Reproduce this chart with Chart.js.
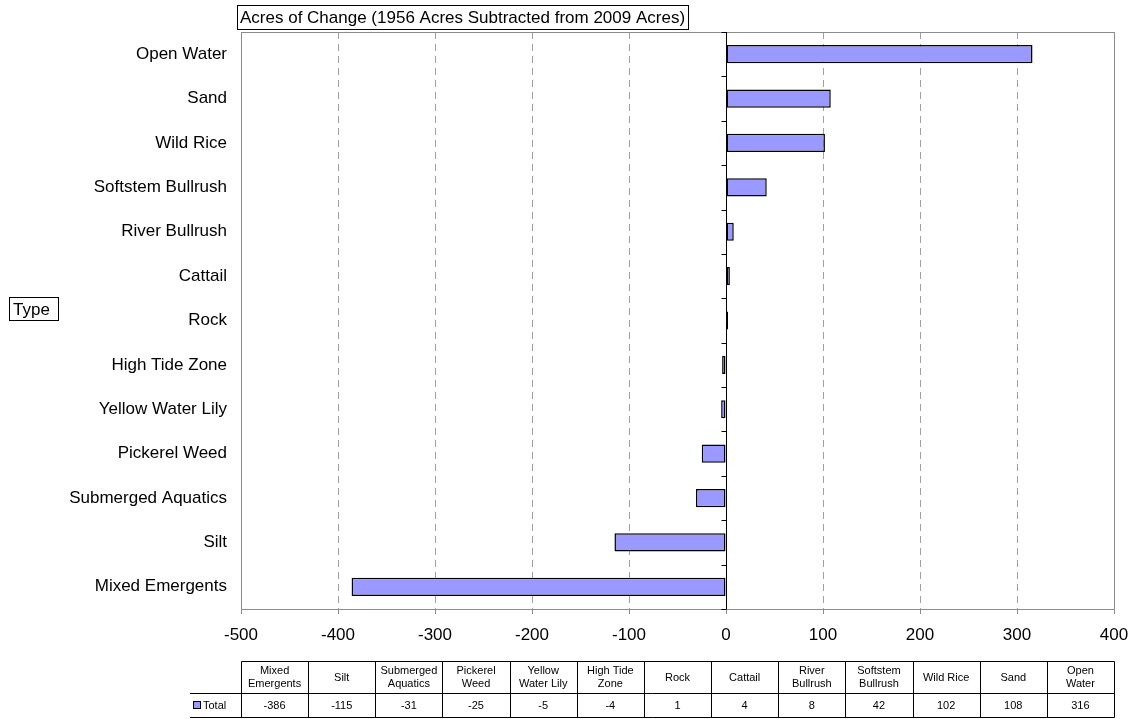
<!DOCTYPE html>
<html>
<head>
<meta charset="utf-8">
<script src="https://cdn.jsdelivr.net/npm/chart.js@4.4.1/dist/chart.umd.min.js"></script>
<style>
  html, body { margin: 0; padding: 0; background: #fff; }
  #wrap { width: 1141px; height: 719px; }
</style>
</head>
<body>
<div id="wrap"><canvas id="chart"></canvas></div>
<script>
'use strict';

// data, in the order of the table (bottom bar first)
const categories = ['Mixed Emergents', 'Silt', 'Submerged Aquatics', 'Pickerel Weed', 'Yellow Water Lily',
  'High Tide Zone', 'Rock', 'Cattail', 'River Bullrush', 'Softstem Bullrush', 'Wild Rice', 'Sand', 'Open Water'];
const totals = [-386, -115, -31, -25, -5, -4, 1, 4, 8, 42, 102, 108, 316];
const seriesName = 'Total';
const chartTitle = 'Acres of Change (1956 Acres Subtracted from 2009 Acres)';
const axisTitle = 'Type';
const xMin = -500;
const xMax = 400;
const xStep = 100;

const FONT = '"Liberation Sans", Arial, sans-serif';
const BAR_FILL = '#9999ff';

function wrapWords(ctx, text, maxW) {
  const words = text.split(' ');
  const lines = [];
  let cur = '';
  words.forEach(w => {
    const test = cur ? cur + ' ' + w : w;
    if (cur && ctx.measureText(test).width > maxW) {
      lines.push(cur);
      cur = w;
    } else {
      cur = test;
    }
  });
  if (cur) lines.push(cur);
  return lines;
}

const excelBits = {
  id: 'excelBits',
  afterDraw(chart) {
    const { ctx, chartArea: a } = chart;
    const xs = chart.scales.x;
    const ys = chart.scales.y;
    ctx.save();

    // plot frame
    ctx.strokeStyle = '#8c8c8c';
    ctx.lineWidth = 1;
    ctx.strokeRect(Math.round(a.left) + 0.5, Math.round(a.top) + 0.5,
      Math.round(a.right - a.left), Math.round(a.bottom - a.top));

    // category axis at zero, with ticks between categories
    const x0 = Math.round(xs.getPixelForValue(0)) + 0.5;
    ctx.strokeStyle = '#000';
    ctx.beginPath();
    ctx.moveTo(x0, a.top);
    ctx.lineTo(x0, a.bottom);
    for (let i = 0; i <= categories.length; i++) {
      const y = Math.round(ys.getPixelForValue(i - 0.5)) + 0.5;
      ctx.moveTo(x0 - 5, y);
      ctx.lineTo(x0, y);
    }
    ctx.stroke();

    // chart title box
    ctx.font = '17px ' + FONT;
    ctx.fillStyle = '#000';
    ctx.textBaseline = 'middle';
    ctx.textAlign = 'left';
    const tw = ctx.measureText(chartTitle).width;
    ctx.strokeRect(237.5, 5.5, Math.round(tw) + 6, 24);
    ctx.fillText(chartTitle, 240, 18);

    // axis title box
    const aw = ctx.measureText(axisTitle).width;
    ctx.strokeRect(9.5, 297.5, Math.round(aw) + 12, 23);
    ctx.fillText(axisTitle, 13, 310);

    // data table
    const n = categories.length;
    const left = Math.round(a.left) + 0.5;
    const right = Math.round(a.right) + 0.5;
    const colW = (a.right - a.left) / n;
    const top = 661.5, mid = 693.5, bot = 717.5;
    ctx.strokeStyle = '#000';
    ctx.beginPath();
    ctx.moveTo(left, top); ctx.lineTo(right, top);
    ctx.moveTo(190, mid); ctx.lineTo(right, mid);
    ctx.moveTo(190, bot); ctx.lineTo(right, bot);
    for (let i = 0; i <= n; i++) {
      const x = Math.round(a.left + i * colW) + 0.5;
      ctx.moveTo(x, top); ctx.lineTo(x, bot);
    }
    ctx.stroke();

    ctx.font = '11px ' + FONT;
    ctx.textAlign = 'center';
    categories.forEach((c, i) => {
      const cx = a.left + (i + 0.5) * colW;
      const lines = wrapWords(ctx, c, 52);
      const lh = 13;
      const y0 = (top + mid) / 2 - (lines.length - 1) * lh / 2;
      lines.forEach((ln, k) => ctx.fillText(ln, cx, y0 + k * lh));
      ctx.fillText(String(totals[i]), cx, (mid + bot) / 2);
    });

    // legend key + series name
    ctx.fillStyle = BAR_FILL;
    ctx.fillRect(193, 701, 8, 8);
    ctx.strokeRect(193.5, 701.5, 7, 7);
    ctx.fillStyle = '#000';
    ctx.textAlign = 'left';
    ctx.fillText(seriesName, 203, (mid + bot) / 2);

    ctx.restore();
  },
};

new Chart(document.getElementById('chart'), {
  type: 'bar',
  data: {
    labels: categories,
    datasets: [{
      label: seriesName,
      data: totals,
      backgroundColor: BAR_FILL,
      borderColor: '#000',
      borderWidth: 1.5,
      borderSkipped: false,
      barPercentage: 0.41,
      categoryPercentage: 1,
      minBarLength: 2,
    }],
  },
  options: {
    indexAxis: 'y',
    responsive: true,
    maintainAspectRatio: false,
    animation: false,
    layout: { padding: { top: 32, right: 27, bottom: 70, left: 0 } },
    plugins: {
      legend: { display: false },
      tooltip: { enabled: false },
    },
    scales: {
      x: {
        min: xMin,
        max: xMax,
        ticks: {
          stepSize: xStep,
          color: '#000',
          font: { size: 17, family: FONT },
          padding: 11,
          maxRotation: 0,
        },
        grid: {
          color: '#a0a0a0',
          tickColor: '#8c8c8c',
          tickLength: 5,
          drawTicks: true,
        },
        border: { display: false, dash: [7, 5] },
        afterFit: (s) => { s.height = 40; },
      },
      y: {
        reverse: true,
        ticks: {
          color: '#000',
          font: { size: 17, family: FONT },
          padding: 14,
        },
        grid: { display: false, drawTicks: false },
        border: { display: false },
        afterFit: (s) => { s.width = 241; },
      },
    },
  },
  plugins: [excelBits],
});
</script>
</body>
</html>
